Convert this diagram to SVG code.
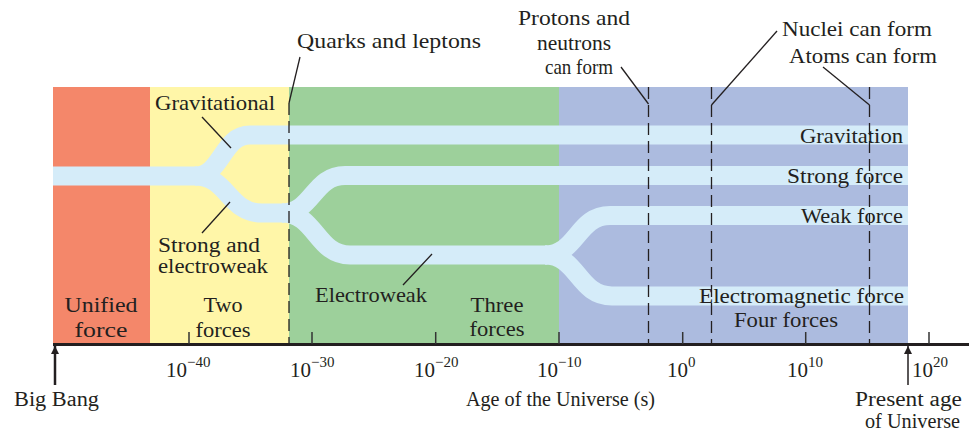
<svg xmlns="http://www.w3.org/2000/svg" width="969" height="431" viewBox="0 0 969 431">
<style>
text{font-family:"Liberation Serif","Times New Roman",serif;fill:#231f20;font-size:21px}
.ax{font-size:20px}
.num{font-size:21px}
.sup{font-size:15px}
.sm{font-size:20px}
.band{fill:none;stroke:#d5ecf9;stroke-width:19}
.lead{stroke:#231f20;stroke-width:1.3;fill:none}
.dash{stroke:#231f20;stroke-width:1.3;stroke-dasharray:12 6;fill:none}
.tick{stroke:#333;stroke-width:1.5}
</style>
<defs>
<marker id="ah" viewBox="0 0 10 10" refX="10" refY="5" markerWidth="10" markerHeight="8" markerUnits="userSpaceOnUse" orient="auto">
<path d="M0,0 L10,5 L0,10 Z" fill="#231f20"/>
</marker>
</defs>
<g id="eras">
<rect id="era-unified" x="53" y="87" width="97" height="257" fill="#f4876a"/>
<rect id="era-two" x="150" y="87" width="139" height="257" fill="#fff6a8"/>
<rect id="era-three" x="289" y="87" width="270" height="257" fill="#9dd09b"/>
<rect id="era-four" x="559" y="87" width="349" height="257" fill="#acbbdf"/>
</g>
<g id="bands">
<path class="band" d="M53,176 H197"/>
<path class="band" d="M195,176 C222,176 222,135 250,135 H908"/>
<path class="band" d="M195,176 C228,176 228,213 262,213 H284"/>
<path class="band" d="M282,213 C313,213 313,175.5 345,175.5 H908"/>
<path class="band" d="M282,213 C316,213 316,255 350,255 H547"/>
<path class="band" d="M545,255 C577,255 577,215.5 610,215.5 H908"/>
<path class="band" d="M545,255 C578,255 578,296 612,296 H908"/>
</g>
<g id="connectors">
<path class="dash" d="M289,103 V343"/>
<path class="dash" d="M648.5,87 V343"/>
<path class="dash" d="M711.5,87 V343"/>
<path class="dash" d="M869.5,87 V343"/>
<path class="lead" d="M300,57 L289,103"/>
<path class="lead" d="M621,67 L648.5,104"/>
<path class="lead" d="M777,31 L711.5,105"/>
<path class="lead" d="M823,67 L869.5,105"/>
<path class="lead" d="M202,117 L231,148"/>
<path class="lead" d="M202,233 L230,202"/>
<path class="lead" d="M403,285 L432,254"/>
</g>
<g id="labels">
<text x="297" y="48" textLength="184" lengthAdjust="spacingAndGlyphs">Quarks and leptons</text>
<text x="574" y="25" text-anchor="middle" textLength="112" lengthAdjust="spacingAndGlyphs">Protons and</text>
<text x="574" y="50" text-anchor="middle" textLength="74" lengthAdjust="spacingAndGlyphs">neutrons</text>
<text x="579" y="74" text-anchor="middle" textLength="68" lengthAdjust="spacingAndGlyphs">can form</text>
<text x="782" y="36" textLength="150" lengthAdjust="spacingAndGlyphs">Nuclei can form</text>
<text x="789" y="63" textLength="148" lengthAdjust="spacingAndGlyphs">Atoms can form</text>
<text x="155" y="110" textLength="120" lengthAdjust="spacingAndGlyphs">Gravitational</text>
<text class="sm" x="158" y="252" textLength="102" lengthAdjust="spacingAndGlyphs">Strong and</text>
<text class="sm" x="158" y="273" textLength="110" lengthAdjust="spacingAndGlyphs">electroweak</text>
<text x="101" y="312" text-anchor="middle" textLength="73" lengthAdjust="spacingAndGlyphs">Unified</text>
<text x="101" y="337" text-anchor="middle" textLength="53" lengthAdjust="spacingAndGlyphs">force</text>
<text x="223" y="312" text-anchor="middle" textLength="39" lengthAdjust="spacingAndGlyphs">Two</text>
<text x="223" y="337" text-anchor="middle" textLength="55" lengthAdjust="spacingAndGlyphs">forces</text>
<text x="315" y="302" textLength="112" lengthAdjust="spacingAndGlyphs">Electroweak</text>
<text x="497" y="312" text-anchor="middle" textLength="53" lengthAdjust="spacingAndGlyphs">Three</text>
<text x="497" y="336" text-anchor="middle" textLength="55" lengthAdjust="spacingAndGlyphs">forces</text>
<text x="903" y="143" text-anchor="end" textLength="103" lengthAdjust="spacingAndGlyphs">Gravitation</text>
<text x="903" y="183" text-anchor="end" textLength="116" lengthAdjust="spacingAndGlyphs">Strong force</text>
<text x="903" y="223" text-anchor="end" textLength="102" lengthAdjust="spacingAndGlyphs">Weak force</text>
<text x="904" y="303" text-anchor="end" textLength="205" lengthAdjust="spacingAndGlyphs">Electromagnetic force</text>
<text x="786" y="327" text-anchor="middle" textLength="104" lengthAdjust="spacingAndGlyphs">Four forces</text>
</g>
<g id="axis">
<line x1="53" y1="344.5" x2="969" y2="344.5" stroke="#231f20" stroke-width="3"/>
<line class="tick" x1="189" y1="332" x2="189" y2="344"/>
<line class="tick" x1="312" y1="332" x2="312" y2="344"/>
<line class="tick" x1="435.7" y1="332" x2="435.7" y2="344"/>
<line class="tick" x1="559" y1="332" x2="559" y2="344"/>
<line class="tick" x1="682.7" y1="332" x2="682.7" y2="344"/>
<line class="tick" x1="805.7" y1="332" x2="805.7" y2="344"/>
<line class="tick" x1="929" y1="332" x2="929" y2="344"/>
<text class="num" x="166" y="377">10<tspan class="sup" dy="-10">−40</tspan></text>
<text class="num" x="290" y="377">10<tspan class="sup" dy="-10">−30</tspan></text>
<text class="num" x="414" y="377">10<tspan class="sup" dy="-10">−20</tspan></text>
<text class="num" x="537" y="377">10<tspan class="sup" dy="-10">−10</tspan></text>
<text class="num" x="667" y="377">10<tspan class="sup" dy="-10">0</tspan></text>
<text class="num" x="787" y="377">10<tspan class="sup" dy="-10">10</tspan></text>
<text class="num" x="912" y="377">10<tspan class="sup" dy="-10">20</tspan></text>
<line x1="55" y1="385" x2="55" y2="346" stroke="#231f20" stroke-width="2.5" marker-end="url(#ah)"/>
<line x1="908" y1="385" x2="908" y2="346" stroke="#231f20" stroke-width="1.5" marker-end="url(#ah)"/>
<text class="ax" x="14" y="406" textLength="85" lengthAdjust="spacingAndGlyphs">Big Bang</text>
<text class="ax" x="466" y="406" textLength="189" lengthAdjust="spacingAndGlyphs">Age of the Universe (s)</text>
<text class="ax" x="855" y="406" textLength="107" lengthAdjust="spacingAndGlyphs">Present age</text>
<text class="ax" x="865" y="428" textLength="95" lengthAdjust="spacingAndGlyphs">of Universe</text>
</g>
</svg>
